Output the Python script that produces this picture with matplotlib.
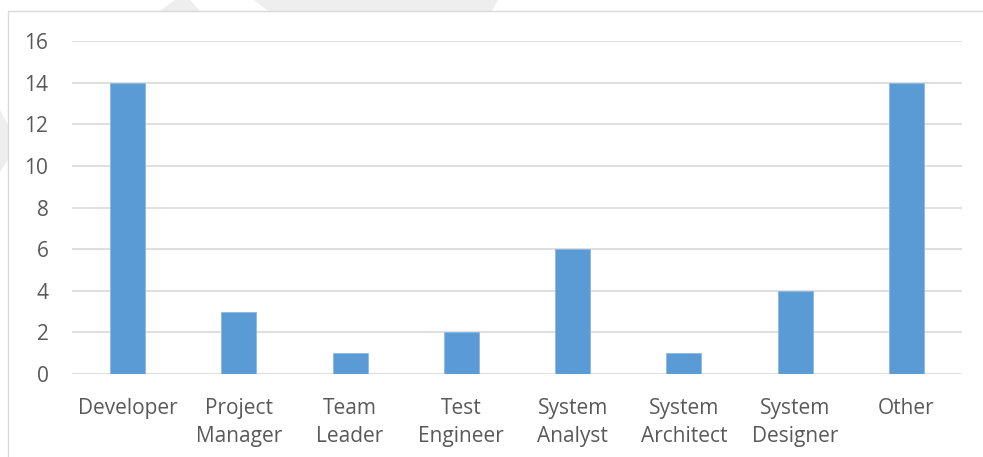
import matplotlib
matplotlib.use("Agg")
import matplotlib.pyplot as plt
from matplotlib.patches import Rectangle, Polygon

categories = ["Developer", "Project\nManager", "Team\nLeader", "Test\nEngineer",
              "System\nAnalyst", "System\nArchitect", "System\nDesigner", "Other"]
values = [14, 3, 1, 2, 6, 1, 4, 14]
yticks = [0, 2, 4, 6, 8, 10, 12, 14, 16]

W, H = 983, 457
fig = plt.figure(figsize=(W / 100, H / 100), dpi=100)
fig.patch.set_facecolor("white")


def px(pts):
    return [(a / W, 1 - b / H) for a, b in pts]


# faint watermark fragments outside the chart frame
for poly in ([(160, 11), (175, 0), (190, 0), (200, 11)],
             [(254, 0), (268, 11), (492, 11), (498, 0)],
             [(0, 110), (8, 125), (8, 160), (0, 172)]):
    fig.patches.append(Polygon(px(poly), closed=True, transform=fig.transFigure,
                               facecolor="#EEEEEE", edgecolor="none"))

# chart area border
fig.patches.append(Rectangle((8 / W, -0.1), 1.2, 1 - 11 / H + 0.1,
                             transform=fig.transFigure, fill=False,
                             edgecolor="#D9D9D9", linewidth=1.0))

ax = fig.add_axes([72 / W, 1 - 374 / H, 890 / W, 333 / H])
x = list(range(len(categories)))
ax.bar(x, values, width=0.315, color="#5B9BD5", edgecolor="#8CB8E2",
       linewidth=0.6, zorder=3)
ax.set_xlim(-0.5, len(categories) - 0.5)
ax.set_ylim(0, 16)
ax.set_yticks(yticks)
ax.set_yticklabels([str(t) for t in yticks])
ax.set_xticks(x)
ax.set_xticklabels(categories, linespacing=1.45)
ax.grid(axis="y", color="#D9D9D9", linewidth=1.2, zorder=0)
for s in ax.spines.values():
    s.set_visible(False)
ax.tick_params(axis="both", length=0, labelsize=15, labelcolor="#595959")
ax.tick_params(axis="x", pad=17)
ax.tick_params(axis="y", pad=17)
for lab in ax.get_xticklabels() + ax.get_yticklabels():
    lab.set_fontfamily("Open Sans")

fig.savefig("out.png", dpi=100)
